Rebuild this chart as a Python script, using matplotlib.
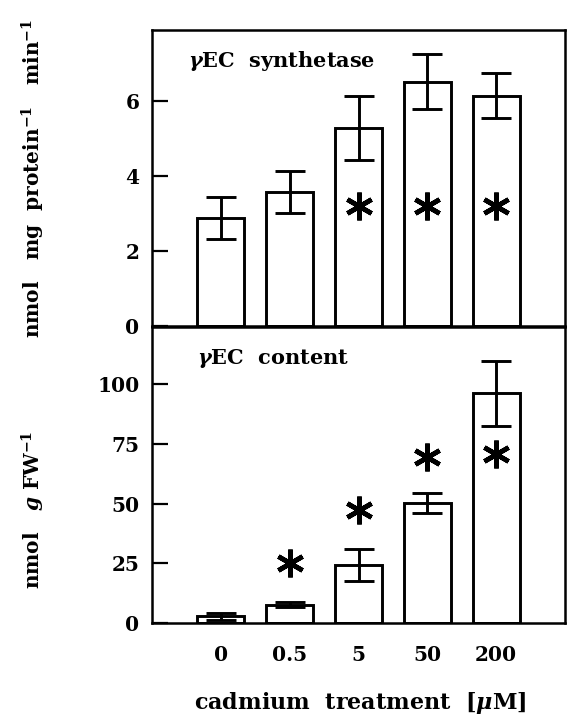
import matplotlib
matplotlib.use("Agg")
import matplotlib.pyplot as plt
import numpy as np

plt.rcParams['font.family'] = ['DejaVu Serif']
plt.rcParams['font.weight'] = 'bold'
plt.rcParams['mathtext.fontset'] = 'dejavuserif'

categories = ["0", "0.5", "5", "50", "200"]
synth_mean = [2.88, 3.57, 5.29, 6.52, 6.14]
synth_err = [0.56, 0.56, 0.85, 0.73, 0.60]
synth_star = [None, None, 3.2, 3.2, 3.2]
content_mean = [2.8, 7.7, 24.3, 50.1, 96.2]
content_err = [1.5, 1.0, 6.8, 4.2, 13.7]
content_star = [None, 25.0, 47.4, 69.7, 70.7]

fig = plt.figure(figsize=(5.68, 7.15), dpi=100)
L, R = 152/568, 565/568
ax1 = fig.add_axes([L, 1-326/715, R-L, (326-30)/715])
ax2 = fig.add_axes([L, 1-623/715, R-L, (623-327)/715])

x = np.arange(len(categories))
lw = 2.1

def draw(ax, mean, err, star, ylim, yticks):
    ax.bar(x, mean, width=0.68, color='white', edgecolor='black', linewidth=lw, zorder=2)
    ax.errorbar(x, mean, yerr=err, fmt='none', ecolor='black', elinewidth=lw,
                capsize=10.5, capthick=lw, zorder=3)
    for xi, s in zip(x, star):
        if s is not None:
            ax.plot(xi, s, marker=(6, 2, 0), markersize=20, mew=3.4, color='black', zorder=4)
    ax.set_xlim(-1, 5)
    ax.set_ylim(*ylim)
    ax.set_yticks(yticks)
    ax.tick_params(axis='y', direction='in', length=11.5, width=1.6, pad=9, labelsize=14.5)
    for sp in ax.spines.values():
        sp.set_linewidth(1.8)

draw(ax1, synth_mean, synth_err, synth_star, (0, 7.9), [0, 2, 4, 6])
draw(ax2, content_mean, content_err, content_star, (0, 124), [0, 25, 50, 75, 100])

ax1.set_xticks([])
ax2.set_xticks(x)
ax2.set_xticklabels(categories)
ax2.tick_params(axis='x', length=0, pad=16, labelsize=14.5)

ax1.text(0.087, 0.895, r'$\gamma$EC  synthetase', transform=ax1.transAxes, fontsize=15,
         ha='left', va='center')
ax2.text(0.11, 0.895, r'$\gamma$EC  content', transform=ax2.transAxes, fontsize=15,
         ha='left', va='center')

fig.text(360/568, 1-703/715, r'cadmium  treatment  [$\mu$M]', fontsize=16, ha='center', va='center')
fig.text(33/568, 1-178/715, r'nmol   mg  protein$^{\mathbf{-1}}$   min$^{\mathbf{-1}}$',
         rotation=90, fontsize=14.5, ha='center', va='center')
fig.text(33/568, 1-510/715, r'nmol   $\mathit{g}$ FW$^{\mathbf{-1}}$',
         rotation=90, fontsize=14.5, ha='center', va='center')

fig.savefig('out.png', dpi=100)
